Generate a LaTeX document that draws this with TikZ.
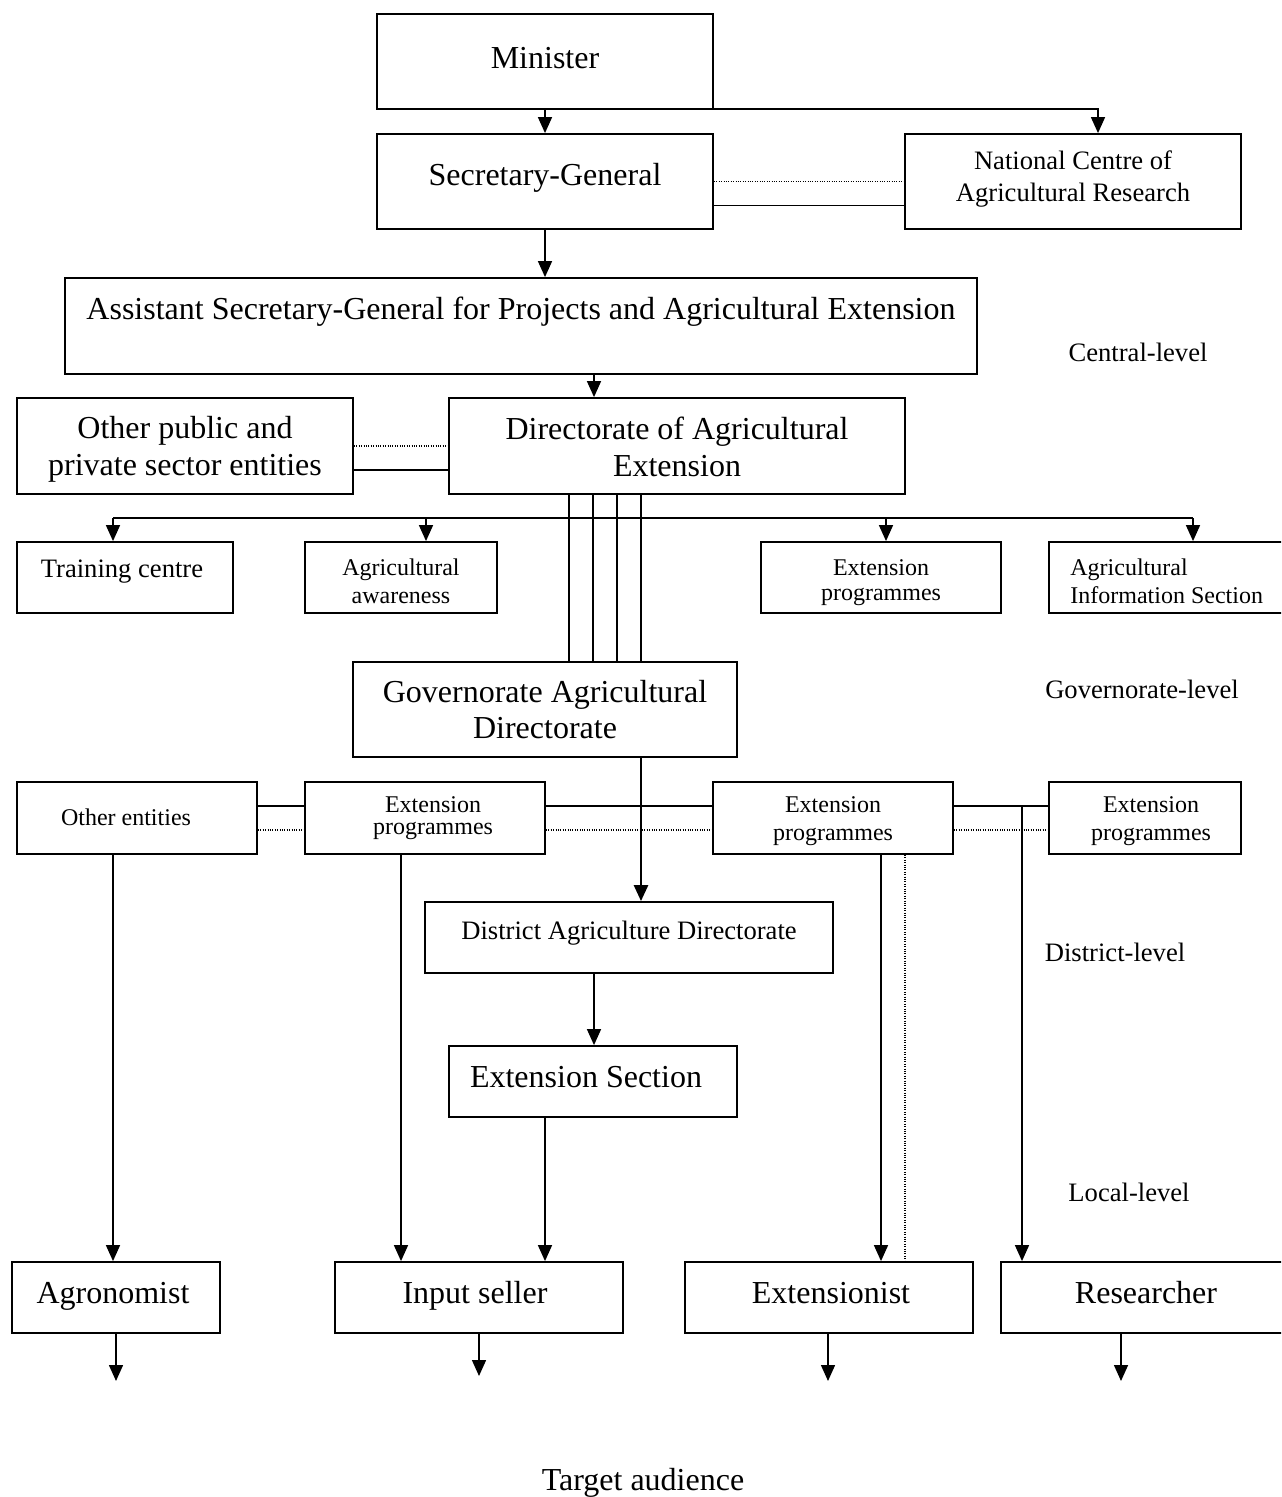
\documentclass[tikz,border=0pt]{standalone}
\usepackage{fontspec}
\setmainfont{Liberation Serif}
\usetikzlibrary{arrows.meta,fit}
\begin{document}
\begin{tikzpicture}[x=0.5pt,y=-0.5pt,
  box/.style={draw, line width=0.9pt, inner sep=0pt},
  conn/.style={line width=0.75pt},
  arr/.style={conn, -{Triangle[length=8pt,width=7pt]}},
  dots/.style={line width=0.6pt, dash pattern=on 0.5pt off 0.7pt},
  big/.style={font=\fontsize{16}{18.5}\selectfont, align=center, inner sep=0pt},
  mid/.style={font=\fontsize{13.3}{16}\selectfont, align=center, inner sep=0pt},
  sml/.style={font=\fontsize{12}{14}\selectfont, align=center, inner sep=0pt}]
\useasboundingbox (0,0) rectangle (1281,1497);
\clip (0,0) rectangle (1281,1497);

% ---- boxes ----
\node[box, fit={(377,14)(713,109)}] (min) {};
\node[box, fit={(377,134)(713,229)}] (sg) {};
\node[box, fit={(905,134)(1241,229)}] (ncar) {};
\node[box, fit={(65,278)(977,374)}] (asg) {};
\node[box, fit={(17,398)(353,494)}] (opub) {};
\node[box, fit={(449,398)(905,494)}] (dir) {};
\node[box, fit={(17,542)(233,613)}] (train) {};
\node[box, fit={(305,542)(497,613)}] (aware) {};
\node[box, fit={(761,542)(1001,613)}] (epc) {};
\node[box, fit={(1049,542)(1295,613)}] (info) {};
\node[box, fit={(353,662)(737,757)}] (gov) {};
\node[box, fit={(17,782)(257,854)}] (oent) {};
\node[box, fit={(305,782)(545,854)}] (ep1) {};
\node[box, fit={(713,782)(953,854)}] (ep2) {};
\node[box, fit={(1049,782)(1241,854)}] (ep3) {};
\node[box, fit={(425,902)(833,973)}] (dist) {};
\node[box, fit={(449,1046)(737,1117)}] (exs) {};
\node[box, fit={(12,1262)(220,1333)}] (agro) {};
\node[box, fit={(335,1262)(623,1333)}] (inp) {};
\node[box, fit={(685,1262)(973,1333)}] (ext) {};
\node[box, fit={(1001,1262)(1295,1333)}] (res) {};

% ---- texts ----
\node[big] (tmin) at (545,58) {Minister};
\node[big] (tsg) at (545,178) {Secretary-General};
\node[mid] (tncar) at (1073,179) {National Centre of\\Agricultural Research};
\node[big] (tasg) at (521,312) {Assistant Secretary-General for Projects and Agricultural Extension};
\node[big] (topub) at (185,449) {Other public and\\private sector entities};
\node[big] (tdir) at (677,447) {Directorate of Agricultural\\Extension};
\node[mid] (ttrain) at (122,572) {Training centre};
\node[sml] (taware) at (401,581) {Agricultural\\awareness};
\node[sml, font=\fontsize{12}{12.5}\selectfont] (tepc) at (881,583) {Extension\\programmes};
\node[sml, align=left, anchor=west] (tinfo) at (1070,581) {Agricultural\\Information Section};
\node[big, font=\fontsize{16}{18}\selectfont] (tgov) at (545,710) {Governorate Agricultural\\Directorate};
\node[sml] (toent) at (126,817) {Other entities};
\node[sml, font=\fontsize{12}{11}\selectfont] (tep1) at (433,818) {Extension\\programmes};
\node[sml] (tep2) at (833,821) {Extension\\programmes};
\node[sml] (tep3) at (1151,821) {Extension\\programmes};
\node[mid] (tdist) at (629,933) {District Agriculture Directorate};
\node[big] (texs) at (586,1077) {Extension Section};
\node[big] (tagro) at (113,1296) {Agronomist};
\node[big] (tinp) at (475,1296) {Input seller};
\node[big] (text) at (831,1293) {Extensionist};
\node[big] (tres) at (1146,1293) {Researcher};
\node[big] (taud) at (643,1483) {Target audience};

% level labels
\node[mid] (lcen) at (1138,352) {Central-level};
\node[mid] (lgov) at (1142,689) {Governorate-level};
\node[mid] (ldis) at (1115,952) {District-level};
\node[mid] (lloc) at (1129,1192) {Local-level};

% ---- reference coordinates for connector columns and rows ----
\coordinate (kN) at (1098,0);
\coordinate (kD) at (594,0);
\coordinate (kT) at (113,0);
\coordinate (kA) at (426,0);
\coordinate (kE) at (886,0);
\coordinate (kI) at (1193,0);
\coordinate (kG) at (641,0);
\coordinate (kR) at (1022,0);
\coordinate (kP) at (401,0);
\coordinate (kS) at (545,0);
\coordinate (kX) at (881,0);
\coordinate (kY) at (905,0);
\coordinate (bus) at (0,518);
\coordinate (rowS) at (0,806);
\coordinate (rowD) at (0,830);
\coordinate (t1) at (116,1381);
\coordinate (t2) at (479,1376);
\coordinate (t3) at (828,1381);
\coordinate (t4) at (1121,1381);

% ---- connectors: central level ----
\draw[arr] (min.south) -- (sg.north);
\draw[arr] ([yshift=0.5pt]min.south east) -| (kN |- ncar.north);
\draw[dots] (sg.east) -- (ncar.west);
\draw[conn] ([yshift=-12pt]sg.east) -- ([yshift=-12pt]ncar.west);
\draw[arr] (sg.south) -- (sg.south |- asg.north);
\draw[arr] (kD |- asg.south) -- (kD |- dir.north);
\draw[dots] (opub.east) -- (dir.west);
\draw[conn] ([yshift=-12pt]opub.east) -- ([yshift=-12pt]dir.west);

% branch to the directorate's units
\draw[conn] (kT |- bus) -- (kI |- bus);
\draw[arr] (kT |- bus) -- (kT |- train.north);
\draw[arr] (kA |- bus) -- (kA |- aware.north);
\draw[arr] (kE |- bus) -- (kE |- epc.north);
\draw[arr] (kI |- bus) -- (kI |- info.north);

% four parallel links down to the governorate
\foreach \x [count=\i] in {569,593,617,641} {
  \coordinate (v\i) at (\x,0);
  \draw[conn] (v\i |- dir.south) -- (v\i |- gov.north);
}

% ---- governorate level ----
\draw[conn] (oent.east |- rowS) -- (ep1.west |- rowS);
\draw[conn] (ep1.east |- rowS) -- (ep2.west |- rowS);
\draw[conn] (ep2.east |- rowS) -- (ep3.west |- rowS);
\draw[dots] (oent.east |- rowD) -- (ep1.west |- rowD);
\draw[dots] (ep1.east |- rowD) -- (ep2.west |- rowD);
\draw[dots] (ep2.east |- rowD) -- (ep3.west |- rowD);
\draw[arr, line width=1.3pt] (kG |- gov.south) -- (kG |- dist.north);

% ---- district and local level ----
\draw[arr] (kD |- dist.south) -- (kD |- exs.north);
\draw[arr] (kS |- exs.south) -- (kS |- inp.north);
\draw[arr] (kT |- oent.south) -- (kT |- agro.north);
\draw[arr] (kP |- ep1.south) -- (kP |- inp.north);
\draw[arr] (kX |- ep2.south) -- (kX |- ext.north);
\draw[dots] (kY |- ep2.south) -- (kY |- ext.north);
\draw[arr] (kR |- rowS) -- (kR |- res.north);

% ---- towards the target audience ----
\draw[arr] (agro.south -| t1) -- (t1);
\draw[arr] (inp.south -| t2) -- (t2);
\draw[arr] (ext.south -| t3) -- (t3);
\draw[arr] (res.south -| t4) -- (t4);
\end{tikzpicture}
\end{document}
